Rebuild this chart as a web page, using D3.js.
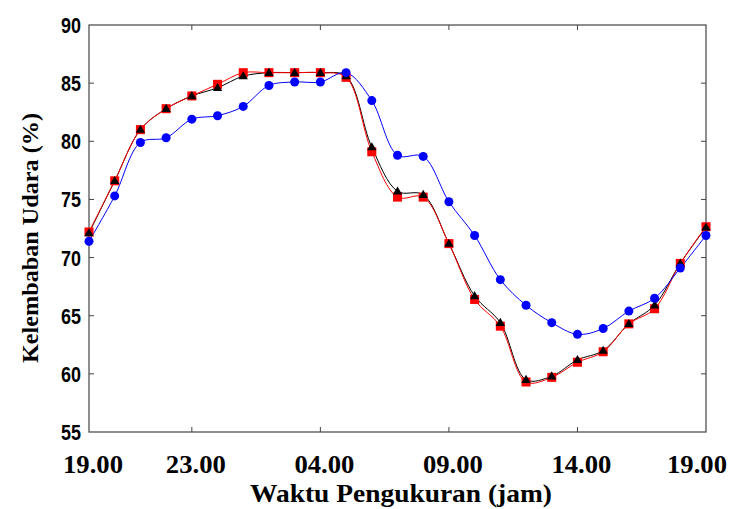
<!DOCTYPE html>
<html>
<head>
    <meta charset="utf-8">
    <script src="https://cdn.jsdelivr.net/npm/d3@7"></script>
    <style>
    body { margin:0; background:#fff; }
    .frame { fill:none; stroke:#444; stroke-width:1.2px; }
    .ytick { font-family:"Liberation Sans",Arial,sans-serif; font-weight:bold; font-size:22px; }
    .xtick, .title { font-family:"Liberation Serif","Times New Roman",serif; font-weight:bold; }
    </style>
</head>
<body>
<script>
// hours along the x axis, one reading per hour
var hours = d3.range(25);
var xTickIdx = [0, 4, 9, 14, 19, 24];
var xTickLabels = ["19.00", "23.00", "04.00", "09.00", "14.00", "19.00"];
var yTicks = [55, 60, 65, 70, 75, 80, 85, 90];

// three measurement series (humidity %)
var seriesBlue = [71.4, 75.3, 79.9, 80.3, 81.9, 82.2, 83.0, 84.8, 85.1, 85.1, 85.9, 83.5, 78.8,
                  78.7, 74.8, 71.9, 68.1, 65.9, 64.4, 63.4, 63.9, 65.4, 66.5, 69.1, 71.9];
var seriesBlack = [72.1, 76.6, 81.0, 82.8, 83.9, 84.6, 85.6, 85.9, 85.9, 85.9, 85.6, 79.5, 75.7,
                   75.4, 71.2, 66.7, 64.4, 59.5, 59.8, 61.2, 62.0, 64.3, 65.9, 69.5, 72.6];
var seriesRed = [72.2, 76.6, 81.0, 82.8, 83.9, 84.9, 85.9, 85.9, 85.9, 85.9, 85.5, 79.1, 75.2,
                 75.2, 71.2, 66.4, 64.1, 59.3, 59.7, 61.0, 61.9, 64.3, 65.6, 69.5, 72.65];

var width = 731, height = 509;
var pLeft = 89, pRight = 706, pTop = 25, pBottom = 432;

var svg = d3.select('body').append('svg')
    .attr('width', width)
    .attr('height', height);

var x = d3.scaleLinear().domain([0, 24]).range([pLeft, pRight]);
var y = d3.scaleLinear().domain([55, 90]).range([pBottom, pTop]);

// frame
svg.append('rect').attr('class', 'frame')
    .attr('x', pLeft).attr('y', pTop)
    .attr('width', pRight - pLeft).attr('height', pBottom - pTop);

// inward ticks on all four sides
var tk = 5;
yTicks.slice(1, -1).forEach(function(v){
    svg.append('line').attr('x1', pLeft).attr('x2', pLeft + tk).attr('y1', y(v)).attr('y2', y(v)).attr('stroke', '#444');
    svg.append('line').attr('x1', pRight).attr('x2', pRight - tk).attr('y1', y(v)).attr('y2', y(v)).attr('stroke', '#444');
});
xTickIdx.slice(1, -1).forEach(function(i){
    svg.append('line').attr('x1', x(i)).attr('x2', x(i)).attr('y1', pBottom).attr('y2', pBottom - tk).attr('stroke', '#444');
    svg.append('line').attr('x1', x(i)).attr('x2', x(i)).attr('y1', pTop).attr('y2', pTop + tk).attr('stroke', '#444');
});

// tick labels (condensed look via textLength)
svg.selectAll('text.ytick').data(yTicks).enter().append('text')
    .attr('class', 'ytick')
    .attr('x', pLeft - 28)
    .attr('y', function(d){ return y(d) + 8; })
    .attr('textLength', 20)
    .attr('lengthAdjust', 'spacingAndGlyphs')
    .text(function(d){ return d; });

svg.selectAll('text.xtick').data(xTickIdx).enter().append('text')
    .attr('class', 'xtick')
    .attr('x', function(d){ return Math.min(x(d) + 4, 697) - 30; })
    .attr('y', 473)
    .attr('textLength', 60)
    .attr('lengthAdjust', 'spacingAndGlyphs')
    .style('font-size', '25px')
    .text(function(d, i){ return xTickLabels[i]; });

// axis titles
svg.append('text').attr('class', 'title')
    .attr('x', 250).attr('y', 502)
    .attr('textLength', 302)
    .attr('lengthAdjust', 'spacingAndGlyphs')
    .style('font-size', '25px')
    .text('Waktu Pengukuran (jam)');

svg.append('text').attr('class', 'title')
    .attr('transform', 'translate(38,363) rotate(-90)')
    .attr('textLength', 250)
    .attr('lengthAdjust', 'spacingAndGlyphs')
    .style('font-size', '24px')
    .text('Kelembaban Udara (%)');

// smooth lines
var line = d3.line()
    .x(function(d, i){ return x(hours[i]); })
    .y(function(d){ return y(d); })
    .curve(d3.curveCatmullRom.alpha(0.5));

svg.append('path').datum(seriesBlack).attr('d', line)
    .attr('fill', 'none').attr('stroke', '#000').attr('stroke-width', 1);
svg.append('path').datum(seriesRed).attr('d', line)
    .attr('fill', 'none').attr('stroke', '#ff0000').attr('stroke-width', 1);
svg.append('path').datum(seriesBlue).attr('d', line)
    .attr('fill', 'none').attr('stroke', '#0000ff').attr('stroke-width', 1);

// markers: red squares, black triangles on top, blue circles
svg.selectAll('rect.sq').data(seriesRed).enter().append('rect')
    .attr('class', 'sq')
    .attr('x', function(d, i){ return x(hours[i]) - 4.5; })
    .attr('y', function(d){ return y(d) - 4.5; })
    .attr('width', 9).attr('height', 9)
    .attr('fill', '#ff0000');

var tri = d3.symbol().type(d3.symbolTriangle).size(38);
svg.selectAll('path.tri').data(seriesBlack).enter().append('path')
    .attr('class', 'tri')
    .attr('d', tri)
    .attr('transform', function(d, i){ return 'translate(' + x(hours[i]) + ',' + (y(d) + 0.5) + ')'; })
    .attr('fill', '#000');

svg.selectAll('circle.dot').data(seriesBlue).enter().append('circle')
    .attr('class', 'dot')
    .attr('cx', function(d, i){ return x(hours[i]); })
    .attr('cy', function(d){ return y(d); })
    .attr('r', 4.5)
    .attr('fill', '#0000ff');
</script>
</body>
</html>
